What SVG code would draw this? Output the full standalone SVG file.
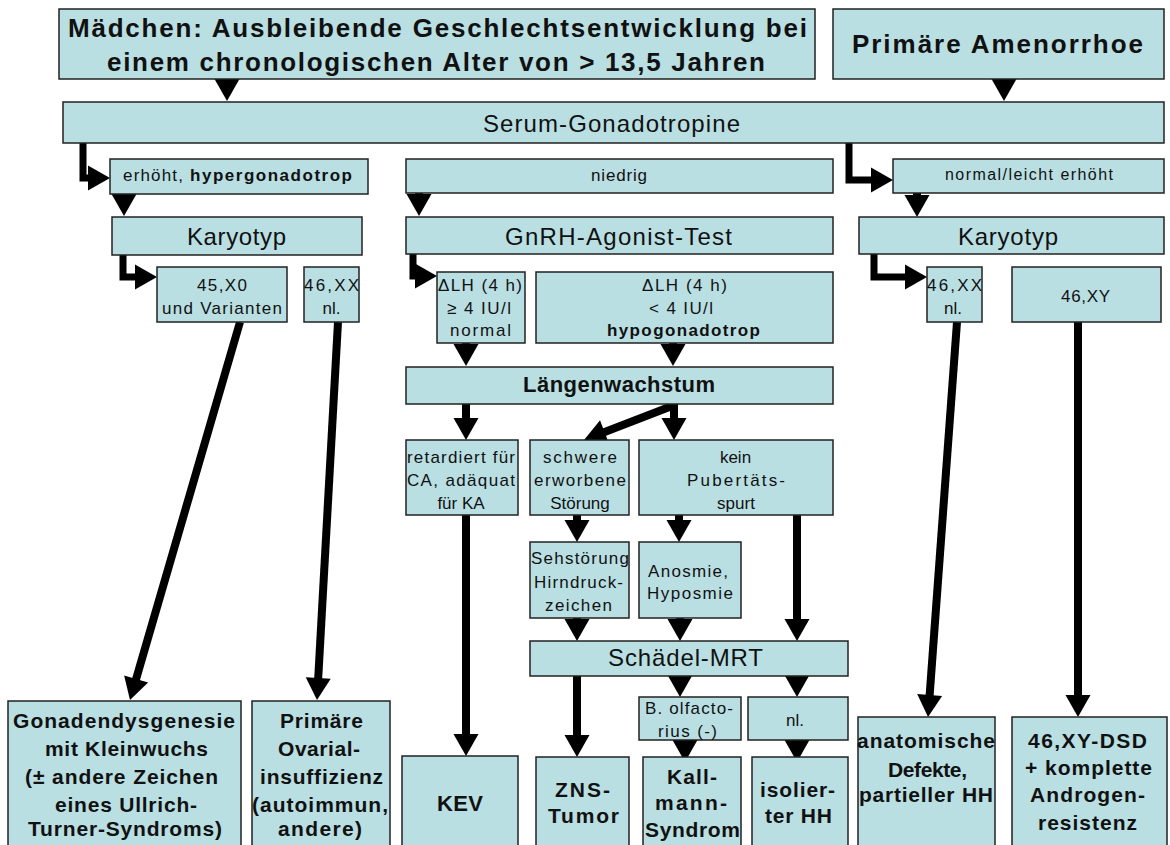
<svg xmlns="http://www.w3.org/2000/svg" width="1170" height="845" viewBox="0 0 1170 845">
<style>
.box{fill:#B9DFE3;stroke:#222;stroke-width:1.5}
text{font-family:"Liberation Sans",Arial,sans-serif;fill:#111;text-anchor:middle}
.b{font-weight:bold}
.h1{font-size:26px;font-weight:bold}
.m{font-size:24px}
.s{font-size:17px}
.xs{font-size:16px}
.lg{font-size:21px;font-weight:bold}
.st{text-anchor:start}
.c{fill:none;stroke:#000;stroke-width:8;marker-end:url(#ah)}
.e{stroke-width:7}
</style>
<defs>
<marker id="ah" markerUnits="userSpaceOnUse" markerWidth="22" markerHeight="25" refX="13" refY="12.5" orient="auto" overflow="visible">
<path d="M0,0 L22,12.5 L0,25 Z" fill="#000"/>
</marker>
</defs>
<rect width="1170" height="845" fill="#fff"/>

<g id="connectors">
<path class="c" d="M227,79 V92"/>
<path class="c" d="M1004,79 V92"/>
<path class="c e" d="M83,143 V178 H101"/>
<path class="c" d="M124,194 V207"/>
<path class="c" d="M419,193 V207"/>
<path class="c e" d="M849,143 V180 H884"/>
<path class="c" d="M917,193 V208"/>
<path class="c e" d="M123,255 V277 H148"/>
<path class="c e" d="M413,254 V276 H428"/>
<path class="c e" d="M874,254 V277 H918"/>
<path class="c" d="M240,322 L132.5,691.4"/>
<path class="c" d="M338,322 L317.5,691"/>
<path class="c" d="M957,322 L928.7,708"/>
<path class="c" d="M1078,322 V708"/>
<path class="c" d="M466,343 V357"/>
<path class="c" d="M673,343 V357"/>
<path class="c" d="M466,404 V431"/>
<path class="c" d="M674,404 V431"/>
<path class="c" d="M672,406 L592.4,436.7"/>
<path class="c" d="M466,515 V747"/>
<path class="c" d="M577,515 V533"/>
<path class="c" d="M679,515 V533"/>
<path class="c" d="M797,515 V632"/>
<path class="c" d="M577,618 V632"/>
<path class="c" d="M680,618 V632"/>
<path class="c" d="M577,676 V748"/>
<path class="c" d="M680,676 V688"/>
<path class="c" d="M797,676 V688"/>
<path class="c" d="M685,740 V753"/>
<path class="c" d="M797,740 V753"/>
</g>

<g id="n-maedchen"><rect class="box" x="59" y="9" width="756" height="70"/>
<text class="h1" x="437.5" y="37" textLength="739">Mädchen: Ausbleibende Geschlechtsentwicklung bei</text>
<text class="h1" x="436" y="71" textLength="658">einem chronologischen Alter von &gt; 13,5 Jahren</text></g>

<g id="n-amenorrhoe"><rect class="box" x="833" y="9" width="331" height="70"/>
<text class="h1" x="997.5" y="53" textLength="291">Primäre Amenorrhoe</text></g>

<g id="n-serum"><rect class="box" x="63" y="102" width="1101" height="41"/>
<text class="m" x="611.5" y="132" textLength="257">Serum-Gonadotropine</text></g>

<g id="n-erhoeht"><rect class="box" x="110" y="159" width="258" height="35"/>
<text class="s st" x="123" y="181" textLength="60">erhöht,</text>
<text class="s st b" x="190" y="181" textLength="162">hypergonadotrop</text></g>

<g id="n-niedrig"><rect class="box" x="406" y="159" width="427" height="34"/>
<text class="s" x="619" y="181" textLength="56">niedrig</text></g>

<g id="n-normal"><rect class="box" x="893" y="159" width="271" height="34"/>
<text class="xs" x="1029" y="180" textLength="168">normal/leicht erhöht</text></g>

<g id="n-karyo-l"><rect class="box" x="112" y="217" width="250" height="38"/>
<text class="m" x="236.5" y="245" textLength="99">Karyotyp</text></g>

<g id="n-gnrh"><rect class="box" x="406" y="217" width="427" height="37"/>
<text class="m" x="618.5" y="245" textLength="227">GnRH-Agonist-Test</text></g>

<g id="n-karyo-r"><rect class="box" x="859" y="217" width="305" height="37"/>
<text class="m" x="1008" y="245" textLength="100">Karyotyp</text></g>

<g id="n-45x0"><rect class="box" x="157" y="267" width="130" height="55"/>
<text class="s" x="222" y="291" textLength="50">45,X0</text>
<text class="s" x="222" y="314" textLength="120">und Varianten</text></g>

<g id="n-46xx-l"><rect class="box" x="304" y="267" width="55" height="55"/>
<text class="s" x="331.5" y="291" textLength="55">46,XX</text>
<text class="s" x="331.5" y="314">nl.</text></g>

<g id="n-dlh-l"><rect class="box" x="437" y="272" width="88" height="71"/>
<text class="s" x="480" y="291" textLength="84">ΔLH (4 h)</text>
<text class="s" x="479" y="314" textLength="64">≥ 4 IU/l</text>
<text class="s" x="480.5" y="336" textLength="61">normal</text></g>

<g id="n-dlh-r"><rect class="box" x="536" y="272" width="297" height="71"/>
<text class="s" x="684.5" y="291" textLength="85">ΔLH (4 h)</text>
<text class="s" x="681" y="314" textLength="64">&lt; 4 IU/l</text>
<text class="s b" x="683.5" y="336" textLength="153">hypogonadotrop</text></g>

<g id="n-laengen"><rect class="box" x="406" y="367" width="427" height="37"/>
<text class="b" style="font-size:22px" x="619" y="392" textLength="192">Längenwachstum</text></g>

<g id="n-retard"><rect class="box" x="406" y="440" width="112" height="75"/>
<text class="s" x="461" y="463" textLength="108">retardiert für</text>
<text class="s" x="461" y="486" textLength="108">CA, adäquat</text>
<text class="s" x="461" y="509">für KA</text></g>

<g id="n-schwere"><rect class="box" x="530" y="440" width="99" height="75"/>
<text class="s" x="580" y="463" textLength="74">schwere</text>
<text class="s" x="580" y="486" textLength="92">erworbene</text>
<text class="s" x="580" y="509">Störung</text></g>

<g id="n-kein"><rect class="box" x="639" y="440" width="194" height="75"/>
<text class="s" x="735.5" y="463">kein</text>
<text class="s" x="736" y="486" textLength="98">Pubertäts-</text>
<text class="s" x="736" y="509">spurt</text></g>

<g id="n-seh"><rect class="box" x="530" y="542" width="99" height="76"/>
<text class="s" x="580" y="564" textLength="98">Sehstörung</text>
<text class="s" x="578.5" y="588" textLength="89">Hirndruck-</text>
<text class="s" x="578.5" y="611" textLength="67">zeichen</text></g>

<g id="n-anosmie"><rect class="box" x="639" y="542" width="102" height="76"/>
<text class="s" x="688" y="577" textLength="80">Anosmie,</text>
<text class="s" x="690" y="599" textLength="86">Hyposmie</text></g>

<g id="n-schaedel"><rect class="box" x="530" y="641" width="318" height="35"/>
<text class="m" x="685.5" y="666" textLength="155">Schädel-MRT</text></g>

<g id="n-bolf"><rect class="box" x="639" y="697" width="102" height="43"/>
<text class="s" x="689" y="714" textLength="88">B. olfacto-</text>
<text class="s" x="687.5" y="737" textLength="59">rius (-)</text></g>

<g id="n-nl"><rect class="box" x="748" y="697" width="100" height="43"/>
<text class="s" x="795" y="726">nl.</text></g>

<g id="n-gonaden"><rect class="box" x="8" y="701" width="233" height="160"/>
<text class="lg" x="124" y="728" textLength="222">Gonadendysgenesie</text>
<text class="lg" x="126.5" y="756" textLength="163">mit Kleinwuchs</text>
<text class="lg" x="121.5" y="784" textLength="193">(± andere Zeichen</text>
<text class="lg" x="126" y="812" textLength="142">eines Ullrich-</text>
<text class="lg" x="125" y="836" textLength="194">Turner-Syndroms)</text></g>

<g id="n-ovar"><rect class="box" x="252" y="701" width="138" height="160"/>
<text class="lg" x="321.5" y="728" textLength="83">Primäre</text>
<text class="lg" x="319" y="756" textLength="82">Ovarial-</text>
<text class="lg" x="321.5" y="784" textLength="123">insuffizienz</text>
<text class="lg" x="320" y="812" textLength="136">(autoimmun,</text>
<text class="lg" x="320" y="836" textLength="84">andere)</text></g>

<g id="n-kev"><rect class="box" x="402" y="756" width="116" height="105"/>
<text class="lg" style="font-size:22px" x="460" y="811" textLength="46">KEV</text></g>

<g id="n-zns"><rect class="box" x="536" y="757" width="93" height="105"/>
<text class="lg" x="582.5" y="797" textLength="55">ZNS-</text>
<text class="lg" x="583.5" y="823" textLength="71">Tumor</text></g>

<g id="n-kallmann"><rect class="box" x="643" y="757" width="98" height="105"/>
<text class="lg" x="692" y="784" textLength="50">Kall-</text>
<text class="lg" x="691" y="810" textLength="72">mann-</text>
<text class="lg" x="692.5" y="837" textLength="95">Syndrom</text></g>

<g id="n-isol"><rect class="box" x="752" y="757" width="96" height="105"/>
<text class="lg" x="797.5" y="797" textLength="75">isolier-</text>
<text class="lg" x="798.5" y="823" textLength="67">ter HH</text></g>

<g id="n-46xx-r"><rect class="box" x="927" y="267" width="55" height="55"/>
<text class="s" x="954.5" y="291" textLength="55">46,XX</text>
<text class="s" x="953" y="314">nl.</text></g>

<g id="n-46xy"><rect class="box" x="1012" y="267" width="149" height="55"/>
<text class="s" x="1085.5" y="302" textLength="49">46,XY</text></g>

<g id="n-anat"><rect class="box" x="858" y="717" width="137" height="145"/>
<text class="lg" x="926" y="748" textLength="138">anatomische</text>
<text class="lg" x="927.5" y="777" textLength="79">Defekte,</text>
<text class="lg" x="926" y="802" textLength="134">partieller HH</text></g>

<g id="n-dsd"><rect class="box" x="1012" y="717" width="155" height="145"/>
<text class="lg" x="1087.5" y="748" textLength="119">46,XY-DSD</text>
<text class="lg" x="1088.5" y="775" textLength="127">+ komplette</text>
<text class="lg" x="1087.5" y="802" textLength="115">Androgen-</text>
<text class="lg" x="1087.5" y="830" textLength="99">resistenz</text></g>
</svg>
